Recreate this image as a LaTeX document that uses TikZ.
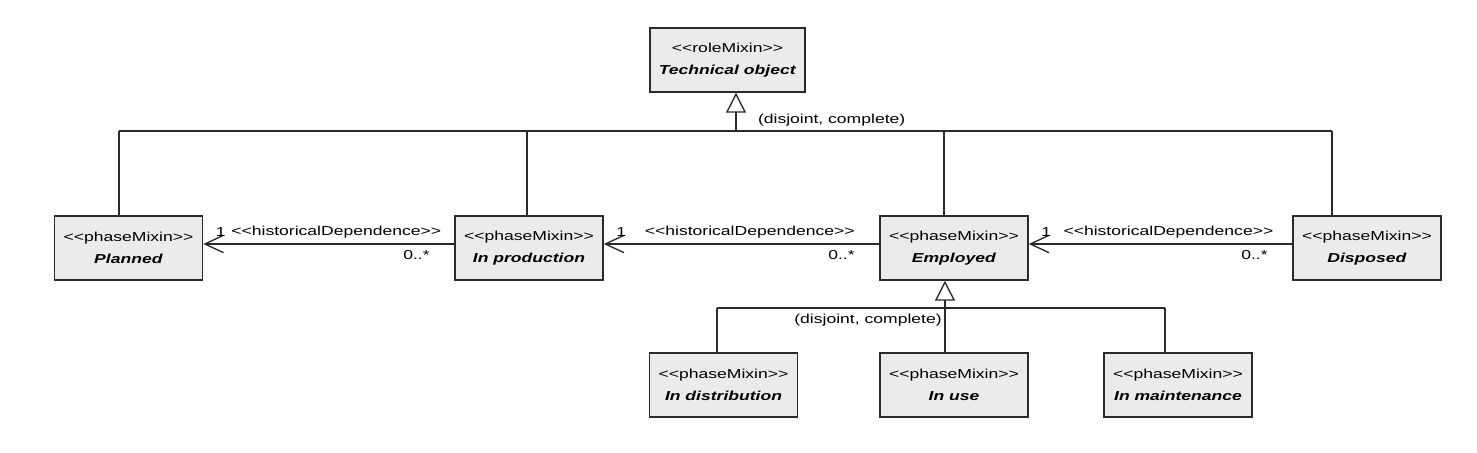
\documentclass[tikz,border=0pt]{standalone}
\usepackage{fontspec}
\newfontfamily\umlfont[FakeStretch=1.35]{Liberation Sans}
\usetikzlibrary{arrows.meta,positioning}
\definecolor{Ink}{HTML}{2A2A2A}
\definecolor{BoxFill}{HTML}{EBEBEB}
\tikzset{
  cls/.style={rectangle,draw=Ink,line width=1.1pt,fill=BoxFill,minimum width=111pt,minimum height=48pt,inner sep=1pt,align=center,font=\umlfont\fontsize{9.75}{17}\selectfont},
  gen/.style={line width=1pt,draw=Ink},
  genhead/.style={gen,-{Triangle[open,length=15pt,width=15pt]}},
  dep/.style={line width=1pt,draw=Ink,-{Straight Barb[length=14pt,width=13pt]}},
  lab/.style={font=\umlfont\fontsize{9.75}{12}\selectfont,inner sep=1pt},
  mult/.style={lab}
}
\newcommand{\cname}[2]{<<#1>>\\\textbf{\textit{#2}}}

\begin{document}
\begin{tikzpicture}[x=0.75pt,y=-0.75pt]
        \useasboundingbox (0,0) rectangle (1477,453);
        % role mixin
        \node[cls,minimum width=116pt] (tech) at (727.5,60) {\cname{roleMixin}{Technical object}};
        % phases
        \node[cls] (planned) at (128.5,248) {\cname{phaseMixin}{Planned}};
        \node[cls] (inprod) at (529,248) {\cname{phaseMixin}{In production}};
        \node[cls] (employed) at (954,248) {\cname{phaseMixin}{Employed}};
        \node[cls] (disposed) at (1367,248) {\cname{phaseMixin}{Disposed}};
        \node[cls] (distrib) at (723.5,385) {\cname{phaseMixin}{In distribution}};
        \node[cls] (inuse) at (954,385) {\cname{phaseMixin}{In use}};
        \node[cls] (maint) at (1178,385) {\cname{phaseMixin}{In maintenance}};
        % generalization set of the role mixin
        \coordinate (gtop) at (736,131);
        \coordinate (b1) at (119,131);
        \coordinate (b2) at (527,131);
        \coordinate (b3) at (944,131);
        \coordinate (b4) at (1332,131);
        \draw[gen] (b1)--(b4);
        \draw[genhead] (gtop)--node[lab,pos=0,anchor=south west,xshift=15pt,yshift=2pt] {(disjoint, complete)}(gtop |- tech.south);
        \draw[gen] (b1)--(b1 |- planned.north);
        \draw[gen] (b2)--(b2 |- inprod.north);
        \draw[gen] (b3)--(b3 |- employed.north);
        \draw[gen] (b4)--(b4 |- disposed.north);
        % generalization set of employed
        \coordinate (gsub) at (945,308);
        \coordinate (c1) at (717,308);
        \coordinate (c3) at (1165,308);
        \draw[gen] (c1)--(c3);
        \draw[genhead] (gsub)--node[lab,pos=0,anchor=north east,xshift=-1pt,yshift=-3pt] {(disjoint, complete)}(gsub |- employed.south);
        \draw[gen] (c1)--(c1 |- distrib.north);
        \draw[gen] (gsub)--(gsub |- inuse.north);
        \draw[gen] (c3)--(c3 |- maint.north);
        % historical dependences
        \draw[dep] ([yshift=3pt]inprod.west)--node[lab,above=3pt,pos=.47] {<<historicalDependence>>}
          node[mult,pos=1,anchor=south west,xshift=8pt,yshift=4pt] {1}
          node[mult,pos=0,anchor=north east,xshift=-17pt,yshift=-3pt] {0..*}([yshift=3pt]planned.east);
        \draw[dep] ([yshift=3pt]employed.west)--node[lab,above=3pt,pos=.47] {<<historicalDependence>>}
          node[mult,pos=1,anchor=south west,xshift=8pt,yshift=4pt] {1}
          node[mult,pos=0,anchor=north east,xshift=-17pt,yshift=-3pt] {0..*}([yshift=3pt]inprod.east);
        \draw[dep] ([yshift=3pt]disposed.west)--node[lab,above=3pt,pos=.47] {<<historicalDependence>>}
          node[mult,pos=1,anchor=south west,xshift=8pt,yshift=4pt] {1}
          node[mult,pos=0,anchor=north east,xshift=-17pt,yshift=-3pt] {0..*}([yshift=3pt]employed.east);
      \end{tikzpicture}
\end{document}
